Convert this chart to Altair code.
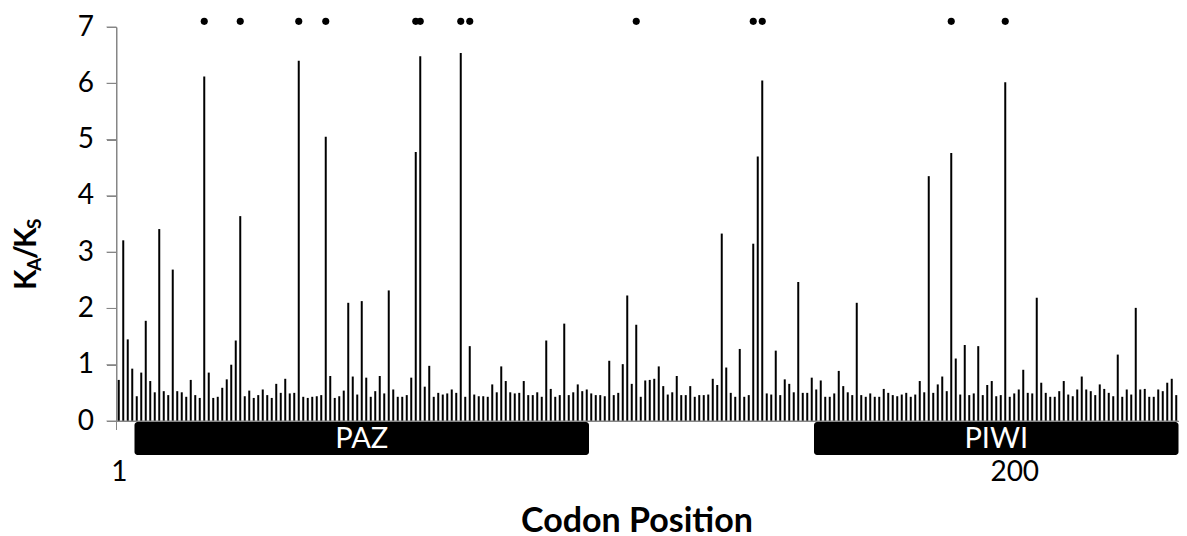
import altair as alt
import pandas as pd

# KA/KS ratio per codon position (1..236)
kaks = [
    0.73, 3.21, 1.45, 0.93, 0.44, 0.86, 1.78, 0.71, 0.51, 3.41,
    0.53, 0.46, 2.69, 0.53, 0.51, 0.43, 0.73, 0.46, 0.41, 6.12,
    0.86, 0.41, 0.43, 0.59, 0.74, 1.00, 1.43, 3.64, 0.44, 0.54,
    0.41, 0.46, 0.56, 0.46, 0.41, 0.66, 0.50, 0.75, 0.49, 0.50,
    6.40, 0.43, 0.41, 0.43, 0.44, 0.46, 5.05, 0.80, 0.41, 0.44,
    0.54, 2.10, 0.79, 0.47, 2.13, 0.77, 0.43, 0.53, 0.80, 0.49,
    2.32, 0.56, 0.43, 0.43, 0.46, 0.77, 4.78, 6.48, 0.61, 0.98,
    0.43, 0.50, 0.47, 0.49, 0.56, 0.50, 6.54, 0.43, 1.33, 0.47,
    0.44, 0.44, 0.43, 0.65, 0.51, 0.97, 0.71, 0.51, 0.49, 0.50,
    0.71, 0.46, 0.46, 0.51, 0.43, 1.43, 0.57, 0.43, 0.46, 1.73,
    0.46, 0.51, 0.65, 0.53, 0.56, 0.49, 0.46, 0.46, 0.44, 1.07,
    0.46, 0.50, 1.01, 2.23, 0.66, 1.71, 0.43, 0.72, 0.73, 0.75,
    0.97, 0.62, 0.47, 0.51, 0.80, 0.46, 0.46, 0.62, 0.43, 0.46,
    0.46, 0.47, 0.75, 0.64, 3.33, 0.95, 0.50, 0.43, 1.28, 0.43,
    0.46, 3.15, 4.70, 6.05, 0.49, 0.47, 1.25, 0.46, 0.74, 0.66,
    0.51, 2.47, 0.50, 0.50, 0.77, 0.56, 0.72, 0.43, 0.43, 0.49,
    0.89, 0.62, 0.51, 0.46, 2.10, 0.46, 0.43, 0.49, 0.43, 0.43,
    0.57, 0.50, 0.46, 0.44, 0.47, 0.50, 0.43, 0.47, 0.71, 0.51,
    4.35, 0.50, 0.65, 0.79, 0.53, 4.76, 1.11, 0.47, 1.35, 0.46,
    0.49, 1.33, 0.46, 0.64, 0.71, 0.44, 0.46, 6.02, 0.43, 0.49,
    0.56, 0.91, 0.50, 0.49, 2.19, 0.68, 0.50, 0.43, 0.43, 0.53,
    0.71, 0.47, 0.44, 0.56, 0.79, 0.56, 0.53, 0.46, 0.65, 0.57,
    0.50, 0.44, 1.18, 0.43, 0.56, 0.47, 2.01, 0.56, 0.57, 0.43,
    0.43, 0.56, 0.53, 0.68, 0.75, 0.46,
]
positions = list(range(1, len(kaks) + 1))

# codons marked as significant (dots above the plot)
sig_sites = [20, 28, 41, 47, 67, 68, 77, 79, 116, 142, 144, 186, 198]
sig_level = [7.1] * len(sig_sites)

# protein domains (codon span)
domain_names = ["PAZ", "PIWI"]
domain_start = [4.5, 155.5]
domain_end = [105.5, 236.5]

x_tick_values = [1, 200]
y_tick_values = [0, 1, 2, 3, 4, 5, 6, 7]

FONT = "Lato"
W, H = 1062, 394
GREY = "#868686"
XT = "Codon Position"

bars_df = pd.DataFrame({"pos": positions, "kaks": kaks})
sig_df = pd.DataFrame({"pos": sig_sites, "lvl": sig_level})
dom_df = pd.DataFrame({"name": domain_names, "start": domain_start, "end": domain_end})
dom_df["mid"] = (dom_df["start"] + dom_df["end"]) / 2
ytick_df = pd.DataFrame({"t": y_tick_values})
one_row = pd.DataFrame({"k": [0]})

xscale = alt.Scale(domain=[0.5, 236.5], nice=False, zero=False, padding=0)
yscale = alt.Scale(domain=[0, 7], nice=False, padding=0)

x_axis = alt.Axis(orient="bottom", values=x_tick_values, ticks=False, domain=True,
                  domainColor=GREY, domainWidth=1, grid=False, labelFontSize=28,
                  labelFont=FONT, labelColor="black", labelPadding=37,
                  labelFlush=False, titleFont=FONT, titleFontSize=34,
                  titleFontWeight="bold", titleColor="black", titlePadding=18,
                  titleX=520, titleAlign="center")
y_axis = alt.Axis(orient="left", values=y_tick_values, format="d", grid=False,
                  domain=True, domainColor=GREY, domainWidth=1, ticks=True,
                  tickColor=GREY, tickWidth=1, tickSize=10, labelFontSize=28,
                  labelFont=FONT, labelColor="black", labelPadding=13)

# axis lines and tick marks drawn explicitly (grey, Excel-like)
y_line = alt.Chart(one_row).mark_rule(color=GREY, strokeWidth=1).encode(
    x=alt.value(0), y=alt.value(0), y2=alt.value(H + 9)
)
x_line = alt.Chart(one_row).mark_rule(color=GREY, strokeWidth=1).encode(
    x=alt.value(0), x2=alt.value(W), y=alt.value(H)
)
y_ticks = alt.Chart(ytick_df).mark_rule(color=GREY, strokeWidth=1).encode(
    x=alt.value(-10), x2=alt.value(0),
    y=alt.Y("t:Q", scale=yscale, title=None, axis=y_axis),
)

bars = alt.Chart(bars_df).mark_bar(size=2, color="black").encode(
    x=alt.X("pos:Q", scale=xscale, title=XT, axis=x_axis),
    y=alt.Y("kaks:Q", scale=yscale, title=None, axis=y_axis),
)

dots = alt.Chart(sig_df).mark_circle(size=50, color="black", opacity=1).encode(
    x=alt.X("pos:Q", scale=xscale, title=XT, axis=x_axis),
    y=alt.Y("lvl:Q", scale=yscale, title=None, axis=y_axis),
)

dom_rect = alt.Chart(dom_df).mark_rect(color="black", cornerRadius=3).encode(
    x=alt.X("start:Q", scale=xscale, title=XT, axis=x_axis),
    x2="end:Q",
    y=alt.value(H + 1),
    y2=alt.value(H + 34),
)

dom_text = alt.Chart(dom_df).mark_text(
    color="white", fontSize=29, font=FONT, baseline="middle", align="center"
).encode(
    x=alt.X("mid:Q", scale=xscale, title=XT, axis=x_axis),
    y=alt.value(H + 18),
    text="name:N",
)

# y-axis title K_A/K_S built from rotated text pieces
def piece(txt, size, xpos, ypos):
    return alt.Chart(one_row).mark_text(
        text=txt, fontSize=size, font=FONT, fontWeight="bold", angle=270,
        align="left", baseline="alphabetic", color="black"
    ).encode(x=alt.value(xpos), y=alt.value(ypos))

title_pieces = [
    piece("K", 30, -81, 263),
    piece("A", 19, -76, 244),
    piece("/", 30, -81, 232),
    piece("K", 30, -81, 221),
    piece("S", 19, -76, 202),
]

chart = alt.layer(bars, y_line, x_line, y_ticks, dots, dom_rect, dom_text,
                  *title_pieces).properties(
    width=W, height=H,
    background="white",
    autosize=alt.AutoSizeParams(type="none"),
    padding={"left": 108.5, "top": 19, "right": 0, "bottom": 118},
).configure_view(stroke=None)

chart.save("out.html", embed_options={"renderer": "svg", "actions": False})
